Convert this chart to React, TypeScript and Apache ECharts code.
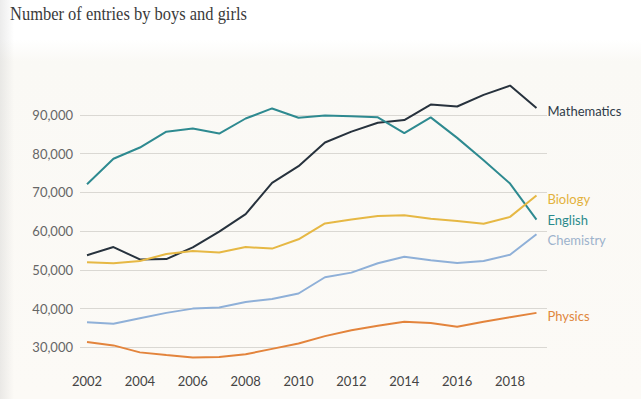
import React, { useEffect, useRef } from "react";
import * as echarts from "echarts";

const years = [2002, 2003, 2004, 2005, 2006, 2007, 2008, 2009, 2010, 2011, 2012, 2013, 2014, 2015, 2016, 2017, 2018, 2019];
const mathematics = [53800, 55900, 52700, 52800, 55800, 59900, 64400, 72500, 76800, 82900, 85700, 88000, 88700, 92700, 92200, 95200, 97600, 91800];
const english = [72100, 78700, 81600, 85700, 86500, 85200, 89100, 91700, 89300, 89900, 89700, 89400, 85300, 89400, 84100, 78300, 72300, 63000];
const biology = [52000, 51700, 52300, 54100, 54900, 54500, 55900, 55500, 57900, 62000, 63000, 63900, 64100, 63200, 62600, 61900, 63700, 69200];
const chemistry = [36500, 36100, 37500, 38900, 40000, 40300, 41700, 42500, 43900, 48100, 49300, 51700, 53400, 52500, 51800, 52300, 53900, 59200];
const physics = [31400, 30500, 28700, 28000, 27400, 27500, 28200, 29600, 31000, 32900, 34400, 35600, 36600, 36300, 35300, 36600, 37800, 38900];
const yTicks = [30000, 40000, 50000, 60000, 70000, 80000, 90000];
const xTicks = [2002, 2004, 2006, 2008, 2010, 2012, 2014, 2016, 2018];

const seriesDefs = [
  { name: "Mathematics", data: mathematics, color: "#27323d", label: "#2f3b48", dy: 3 },
  { name: "English", data: english, color: "#2e8a90", label: "#2b8a8c", dy: 0 },
  { name: "Biology", data: biology, color: "#e6b844", label: "#e3b23c", dy: 3 },
  { name: "Chemistry", data: chemistry, color: "#8fb0d8", label: "#9db2cc", dy: 6 },
  { name: "Physics", data: physics, color: "#e3843c", label: "#e0873e", dy: 3 },
];

export default function App() {
  const ref = useRef<HTMLDivElement>(null);
  useEffect(() => {
    if (!ref.current) return;
    const chart = echarts.init(ref.current, undefined, { renderer: "svg" });
    chart.setOption({
      animation: false,
      backgroundColor: "#ffffff",
      graphic: [
        {
          type: "rect",
          z: -10,
          silent: true,
          shape: { x: 0, y: 40, width: 641, height: 359 },
          style: {
            fill: new echarts.graphic.LinearGradient(0, 0, 0, 1, [
              { offset: 0, color: "#ffffff" },
              { offset: 0.06, color: "#faf9f5" },
              { offset: 1, color: "#fcfaf6" },
            ]),
          },
        },
        {
          type: "rect",
          z: -9,
          silent: true,
          shape: { x: 0, y: 0, width: 14, height: 399 },
          style: {
            fill: new echarts.graphic.LinearGradient(0, 0, 1, 0, [
              { offset: 0, color: "rgba(200,200,200,0.35)" },
              { offset: 1, color: "rgba(200,200,200,0)" },
            ]),
          },
        },
        {
          type: "text",
          x: 10,
          y: 5,
          scaleX: 0.915,
          style: {
            text: "Number of entries by boys and girls",
            fontFamily: "Liberation Serif",
            fontSize: 18,
            fill: "#3a3a3a",
          },
        },
      ],
      grid: { left: 80, right: 94, top: 76.3, height: 290.4 },
      xAxis: {
        type: "value",
        min: 2001.735,
        max: 2019.398,
        axisLine: { show: false },
        axisTick: { show: false, customValues: xTicks },
        splitLine: { show: false },
        axisLabel: {
          customValues: xTicks,
          margin: 8,
          color: "#444",
          fontFamily: "Lato",
          fontSize: 13,
          formatter: (v: number) => String(v),
        },
      },
      yAxis: {
        type: "value",
        min: 25000,
        max: 100000,
        axisLine: { show: false },
        axisTick: { show: false, customValues: yTicks },
        splitLine: { show: true, lineStyle: { color: "#dad8d3", width: 1 } },
        axisLabel: {
          customValues: yTicks,
          margin: 7,
          color: "#666",
          fontFamily: "Lato",
          fontSize: 13,
          formatter: (v: number) => v.toLocaleString("en-US"),
        },
      },
      series: seriesDefs.map((s) => ({
        name: s.name,
        type: "line",
        data: years.map((y, i) => [y, s.data[i]]),
        showSymbol: false,
        symbol: "none",
        lineStyle: { color: s.color, width: 2 },
        itemStyle: { color: s.color },
        endLabel: {
          show: true,
          formatter: "{a}",
          color: s.label,
          fontFamily: "Lato",
          fontSize: 13,
          distance: 11,
          offset: [0, s.dy],
        },
      })),
    });
    return () => chart.dispose();
  }, []);
  return <div ref={ref} style={{ position: "fixed", left: 0, top: 0, width: 641, height: 399 }} />;
}
